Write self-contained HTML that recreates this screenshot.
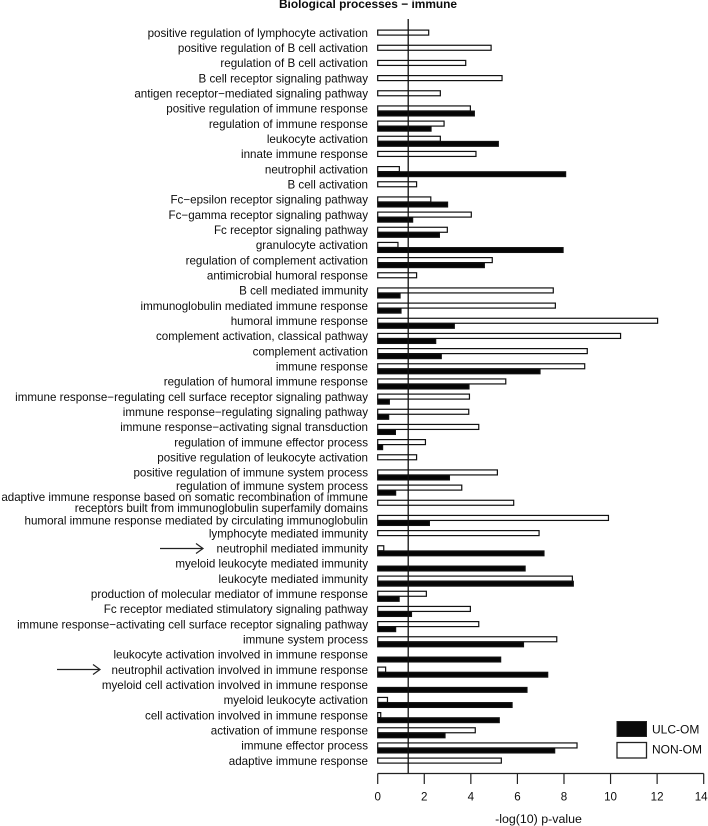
<!DOCTYPE html>
<html lang="en">
<head>
<meta charset="utf-8">
<title>Biological processes − immune</title>
<style>
html,body{margin:0;padding:0;background:#fff;}
body{width:708px;height:826px;overflow:hidden;}
svg{display:block;font-family:"Liberation Sans",Arial,sans-serif;filter:blur(0.3px);}
text{fill:#0c0c0c;}
</style>
</head>
<body>
<svg id="chart" width="708" height="826" viewBox="0 0 708 826" xmlns="http://www.w3.org/2000/svg">
  <text x="368" y="8" text-anchor="middle" font-size="11.9" font-weight="bold">Biological processes − immune</text>
  <text x="538.5" y="823" text-anchor="middle" font-size="12.4">-log(10) p-value</text>
  <g id="bars"></g>
  <g id="labels"></g>
  <g id="axis"></g>
  <g fill="none" stroke="#222" stroke-width="1.2">
    <line x1="160" y1="548.5" x2="202.5" y2="548.5"/>
    <polyline points="196,543.5 203,548.5 196,553.5"/>
  </g>
  <g fill="none" stroke="#222" stroke-width="1.2">
    <line x1="57" y1="669.5" x2="99.5" y2="669.5"/>
    <polyline points="93,664.5 100,669.5 93,674.5"/>
  </g>
  <g>
    <rect x="617" y="721.5" width="29.5" height="15" fill="#0a0a0a" stroke="#222" stroke-width="1"/>
    <text x="652" y="733.5" font-size="12">ULC-OM</text>
    <rect x="617" y="742.5" width="29.5" height="15.5" fill="#fff" stroke="#222" stroke-width="1.3"/>
    <text x="652" y="753.5" font-size="12">NON-OM</text>
  </g>
</svg>
<script>
const categories = [
  "positive regulation of lymphocyte activation",
  "positive regulation of B cell activation",
  "regulation of B cell activation",
  "B cell receptor signaling pathway",
  "antigen receptor−mediated signaling pathway",
  "positive regulation of immune response",
  "regulation of immune response",
  "leukocyte activation",
  "innate immune response",
  "neutrophil activation",
  "B cell activation",
  "Fc−epsilon receptor signaling pathway",
  "Fc−gamma receptor signaling pathway",
  "Fc receptor signaling pathway",
  "granulocyte activation",
  "regulation of complement activation",
  "antimicrobial humoral response",
  "B cell mediated immunity",
  "immunoglobulin mediated immune response",
  "humoral immune response",
  "complement activation, classical pathway",
  "complement activation",
  "immune response",
  "regulation of humoral immune response",
  "immune response−regulating cell surface receptor signaling pathway",
  "immune response−regulating signaling pathway",
  "immune response−activating signal transduction",
  "regulation of immune effector process",
  "positive regulation of leukocyte activation",
  "positive regulation of immune system process",
  "regulation of immune system process",
  "adaptive immune response based on somatic recombination of immune|receptors built from immunoglobulin superfamily domains",
  "humoral immune response mediated by circulating immunoglobulin",
  "lymphocyte mediated immunity",
  "neutrophil mediated immunity",
  "myeloid leukocyte mediated immunity",
  "leukocyte mediated immunity",
  "production of molecular mediator of immune response",
  "Fc receptor mediated stimulatory signaling pathway",
  "immune response−activating cell surface receptor signaling pathway",
  "immune system process",
  "leukocyte activation involved in immune response",
  "neutrophil activation involved in immune response",
  "myeloid cell activation involved in immune response",
  "myeloid leukocyte activation",
  "cell activation involved in immune response",
  "activation of immune response",
  "immune effector process",
  "adaptive immune response"
];
const nonOmValues = [
  2.19, 4.87, 3.78, 5.34, 2.69, 3.98, 2.85, 2.69, 4.22, 0.93,
  1.67, 2.28, 4.02, 2.99, 0.87, 4.92, 1.67, 7.54, 7.63, 12.02,
  10.43, 9.0, 8.89, 5.5, 3.94, 3.91, 4.34, 2.05, 1.67, 5.14,
  3.61, 5.84, 9.91, 6.93, 0.26, 0, 8.36, 2.09, 3.98, 4.34,
  7.69, 0, 0.34, 0, 0.42, 0.13, 4.19, 8.56, 5.31
];
const ulcOmValues = [
  0, 0, 0, 0, 0, 4.15, 2.29, 5.18, 0, 8.07,
  0, 3.0, 1.5, 2.65, 7.96, 4.58, 0, 0.96, 1.0, 3.29,
  2.49, 2.73, 6.97, 3.92, 0.5, 0.47, 0.76, 0.21, 0, 3.08,
  0.77, 0, 2.22, 0, 7.14, 6.33, 8.4, 0.92, 1.45, 0.77,
  6.26, 5.28, 7.3, 6.41, 5.77, 5.22, 2.89, 7.6, 0
];
const xTicks = [0, 2, 4, 6, 8, 10, 12, 14];
const significanceThreshold = 1.31;

const SVG_NS = "http://www.w3.org/2000/svg";
const xScale = v => 377.7 + v * (326 / 14);
const yScale = i => 32.7 + i * (728 / 48);
const labelNudge = {30: -2, 32: 2.5};

function make(tag, attrs, parent) {
  const el = document.createElementNS(SVG_NS, tag);
  for (const k in attrs) el.setAttribute(k, attrs[k]);
  parent.appendChild(el);
  return el;
}

const barsG = document.getElementById("bars");
const labelsG = document.getElementById("labels");
const axisG = document.getElementById("axis");

categories.forEach((name, i) => {
  const y = yScale(i);
  const white = make("rect", {x: xScale(0), y: y - 2.6, width: Math.max(0, xScale(nonOmValues[i]) - xScale(0)), height: 5, fill: "#fff", stroke: "#111", "stroke-width": 1.2}, barsG);
  
  
  const black = make("rect", {x: xScale(0), y: y + 2.6, width: Math.max(0, xScale(ulcOmValues[i]) - xScale(0)), height: 4.8, fill: "#050505", stroke: "#111", "stroke-width": 1.2}, barsG);
  
  

  const lines = name.split("|");
  const cy = y + 4.2 + (labelNudge[i] || 0);
  lines.forEach((line, j) => {
    const dy = lines.length > 1 ? (j === 0 ? -6 : 5) : 0;
    const t = make("text", {x: 368, y: cy + dy, "text-anchor": "end", "font-size": 11.6}, labelsG);
    
    
    t.textContent = line;
  });
});

const thresholdLine = make("line", {x1: xScale(significanceThreshold), x2: xScale(significanceThreshold), y1: 19, y2: 773.5, stroke: "#111", "stroke-width": 1.3}, barsG);



const axisLine = make("line", {x1: xScale(0), x2: xScale(14), y1: 773.5, y2: 773.5, stroke: "#222", "stroke-width": 1.2}, axisG);



xTicks.forEach(v => {
  const tick = make("line", {x1: xScale(v), x2: xScale(v), y1: 773.5, y2: 784, stroke: "#222", "stroke-width": 1.2}, axisG);
  
  
  const lab = make("text", {x: xScale(v) - (v === 14 ? 2.5 : 0), y: 800.5, "text-anchor": "middle", "font-size": 11.6}, axisG);
  
  
  lab.textContent = v;
});
</script>
</body>
</html>
